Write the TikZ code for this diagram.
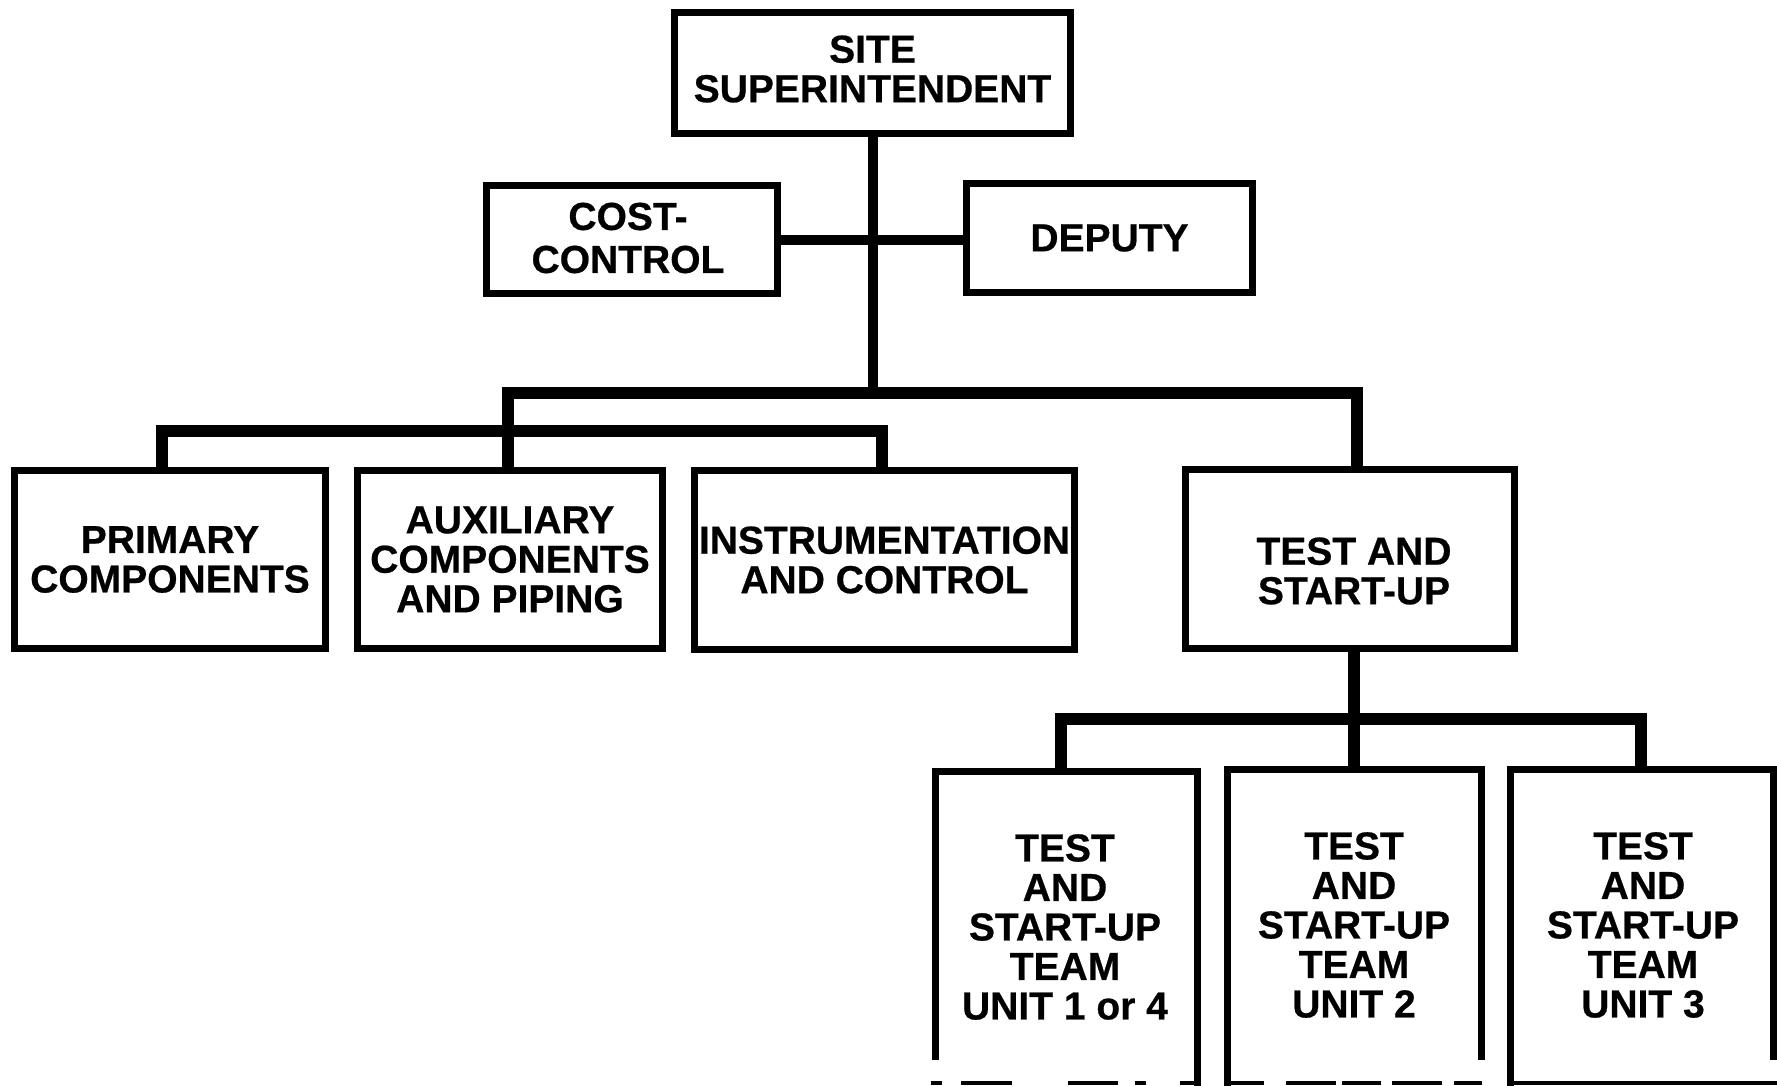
\documentclass[tikz,border=0pt]{standalone}
\usepackage{fontspec}
\setmainfont{Liberation Sans}[BoldFeatures={FakeBold=0.6}]
\newcommand\chartfont{\fontsize{39}{39.5}\selectfont\bfseries}
\begin{document}
\begin{tikzpicture}[x=1pt,y=-1pt,
  box/.style={draw, line width=7pt, rectangle, inner sep=0pt, align=center, font=\chartfont},
  lbl/.style={align=center, font=\chartfont, inner sep=0pt},
  link/.style={line width=12pt, line join=miter},
  trunk/.style={line width=10pt, line join=miter},
  edge/.style={line width=7pt, line join=miter},
  rag/.style={line width=4pt}]
\useasboundingbox (0,0) rectangle (1777,1086);

% top level
\node[box, minimum width=396pt, minimum height=121pt] (site) at (872.5,73) {};
\node[lbl] (sitetxt) at (872.5,69) {SITE\\SUPERINTENDENT};
\node[box, minimum width=291pt, minimum height=108pt] (cost) at (632,239.5) {};
\node[lbl, font=\fontsize{39}{43}\selectfont\bfseries] (costtxt) at (628,238) {COST-\\CONTROL};
\node[box, minimum width=286pt, minimum height=109pt] (deputy) at (1109.5,238) {DEPUTY};

% groups
\node[box, minimum width=311pt, minimum height=178pt] (pri) at (170,559.5) {PRIMARY\\COMPONENTS};
\node[box, minimum width=305pt, minimum height=178pt] (aux) at (510,559.5) {AUXILIARY\\COMPONENTS\\AND PIPING};
\node[box, minimum width=380pt, minimum height=179pt] (instr) at (884.5,560) {INSTRUMENTATION\\AND CONTROL};
\node[box, minimum width=329pt, minimum height=179pt] (test) at (1350,559) {};
\node[lbl] (testtxt) at (1354,571) {TEST AND\\START-UP};

% start-up teams (open at the foot of the sheet)
\draw[edge] (935.5,1060) -- (935.5,771.5) -- (1197.5,771.5) -- (1197.5,1086);
\draw[edge] (1227.5,1086) -- (1227.5,769.5) -- (1481.5,769.5) -- (1481.5,1060);
\draw[edge] (1510.5,1086) -- (1510.5,769.5) -- (1773.5,769.5) -- (1773.5,1060);
\foreach \a/\b in {931/942, 961/1012, 1068/1118, 1135/1146, 1180/1201,
                   1224/1264, 1286/1336, 1342/1381, 1392/1442, 1454/1482,
                   1507/1549, 1549/1777}
  \draw[rag] (\a,1083) -- (\b,1083);
\node[lbl] (team1) at (1065,927) {TEST\\AND\\START-UP\\TEAM\\UNIT 1 or 4};
\node[lbl] (team2) at (1354,925) {TEST\\AND\\START-UP\\TEAM\\UNIT 2};
\node[lbl] (team3) at (1643,925) {TEST\\AND\\START-UP\\TEAM\\UNIT 3};
\coordinate (t1) at (1061,768);
\coordinate (t2) at (1354,766);
\coordinate (t3) at (1641,766);

% junctions
\coordinate (j1) at (872.5,393);
\coordinate (j2) at (508,431);
\coordinate (j3) at (1354,719);

% connectors
\draw[trunk] (site.south) -- (j1);
\draw[trunk] (cost.east) -- (cost.east -| deputy.west);
\draw[link] (j2 |- aux.north) |- (j1) -| ([xshift=7pt]test.north);
\draw[link] ([xshift=-8pt]pri.north) |- (j2) -| ([xshift=-3pt]instr.north);
\draw[link] (test.south -| t2) -- (t2);
\draw[link] (t1) |- (j3) -| (t3);
\end{tikzpicture}
\end{document}
